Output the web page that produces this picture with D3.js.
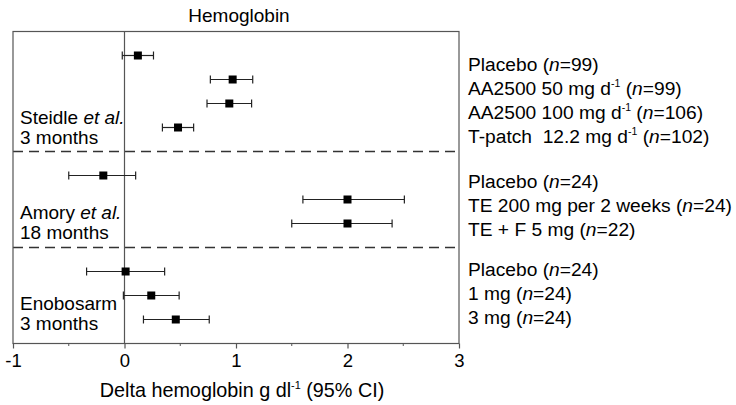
<!DOCTYPE html>
<html>
<head>
<meta charset="utf-8">
<script src="https://cdn.jsdelivr.net/npm/d3@7"></script>
<style>
  html, body { margin: 0; padding: 0; background: #fff; }
  svg { display: block; font-family: "Liberation Sans", Arial, Helvetica, sans-serif; }
  text { white-space: pre; }
</style>
</head>
<body>
<svg id="chart" width="736" height="405"></svg>
<script>
// ---------------- data ----------------
const chartTitle = "Hemoglobin";
const axisTitle = "Delta hemoglobin g dl^-1^ (95% CI)";
const groupIndex = [0, 0, 0, 0, 1, 1, 1, 2, 2, 2];
const armLabels = [
  "Placebo (*n*=99)",
  "AA2500 50 mg d^-1^ (*n*=99)",
  "AA2500 100 mg d^-1^ (*n*=106)",
  "T-patch  12.2 mg d^-1^ (*n*=102)",
  "Placebo (*n*=24)",
  "TE 200 mg per 2 weeks (*n*=24)",
  "TE + F 5 mg (*n*=22)",
  "Placebo (*n*=24)",
  "1 mg (*n*=24)",
  "3 mg (*n*=24)"
];
const means = [0.12, 0.97, 0.94, 0.48, -0.19, 2.00, 2.00, 0.01, 0.24, 0.46];
const lower = [-0.02, 0.77, 0.74, 0.34, -0.50, 1.60, 1.50, -0.34, -0.01, 0.17];
const upper = [0.26, 1.15, 1.14, 0.62, 0.10, 2.51, 2.40, 0.36, 0.49, 0.76];
const rowIndex = [0, 1, 2, 3, 5, 6, 7, 9, 10, 11];
const separatorRows = [4, 8];
const studyLine1 = ["Steidle *et al.*", "Amory *et al.*", "Enobosarm"];
const studyLine2 = ["3 months", "18 months", "3 months"];
const studyLastRow = [3, 7, 11];
const xTickValues = [-1, 0, 1, 2, 3];
const xMinorTicks = [-0.5, 0.5, 1.5, 2.5];
const xDomain = [-1, 3];
const rowDomain = [-1, 12];

// ---------------- layout / style ----------------
const svg = d3.select("#chart");
const plot = { left: 13, right: 459, top: 31.5, bottom: 343.5 };
const x = d3.scaleLinear().domain(xDomain).range([plot.left, plot.right]);
const y = d3.scaleLinear().domain(rowDomain).range([plot.top, plot.bottom]);
const fs = 19.2;
const frameColor = "#555";
const labelOffset = [15, 12, 4];                 // right labels baseline offset per study
const studyOffsets = [[-4, 16], [-5, 15], [-10, 10.5]];

// rich text helper: *italic*, ^superscript^
function rich(sel, str, size) {
  const parts = str.split(/(\*[^*]+\*|\^[^^]+\^)/).filter(s => s.length);
  let prevSup = false;
  parts.forEach(p => {
    const t = sel.append("tspan");
    if (p.startsWith("*")) {
      t.attr("font-style", "italic").text(p.slice(1, -1));
    } else if (p.startsWith("^")) {
      t.attr("font-size", size * 0.55).text(p.slice(1, -1));
      t.attr("dy", -size * 0.4);
      prevSup = true;
      return;
    } else {
      t.text(p);
    }
    if (prevSup) { t.attr("dy", size * 0.4); prevSup = false; }
  });
}

// title
svg.append("text")
  .attr("x", 239).attr("y", 22)
  .attr("text-anchor", "middle").attr("font-size", 19)
  .text(chartTitle);

// separators
svg.selectAll("line.sep").data(separatorRows).join("line")
  .attr("class", "sep")
  .attr("x1", plot.left).attr("x2", plot.right)
  .attr("y1", d => y(d)).attr("y2", d => y(d))
  .attr("stroke", "#333").attr("stroke-width", 1.3)
  .attr("stroke-dasharray", "10,6");

// zero line
svg.append("line")
  .attr("x1", x(0)).attr("x2", x(0))
  .attr("y1", plot.top).attr("y2", plot.bottom)
  .attr("stroke", frameColor).attr("stroke-width", 1.2);

// frame
svg.append("rect")
  .attr("x", plot.left).attr("y", plot.top)
  .attr("width", plot.right - plot.left).attr("height", plot.bottom - plot.top)
  .attr("fill", "none").attr("stroke", frameColor).attr("stroke-width", 1.2);

// x axis
const axis = svg.append("g").attr("transform", `translate(0,${plot.bottom})`)
  .call(d3.axisBottom(x).tickValues(xTickValues).tickSize(5).tickFormat(d => String(d)));
axis.select(".domain").remove();
axis.selectAll(".tick line").attr("stroke", frameColor).attr("stroke-width", 1.2);
axis.selectAll(".tick text")
  .attr("font-size", 18.5).attr("font-family", "Liberation Sans, Arial, sans-serif")
  .attr("fill", "#000").attr("y", 10).attr("dy", "0.71em");
svg.append("g").attr("transform", `translate(0,${plot.bottom})`)
  .selectAll("line").data(xMinorTicks).join("line")
  .attr("x1", d => x(d)).attr("x2", d => x(d))
  .attr("y1", 0).attr("y2", 2.5)
  .attr("stroke", frameColor).attr("stroke-width", 1);

// axis title
const at = svg.append("text")
  .attr("x", 242).attr("y", 397)
  .attr("text-anchor", "middle").attr("font-size", 19.8);
rich(at, axisTitle, 19.8);

// error bars
const cap = 4;
const bars = svg.append("g").selectAll("g").data(means).join("g");
bars.append("line")
  .attr("x1", (d, i) => x(lower[i])).attr("x2", (d, i) => x(upper[i]))
  .attr("y1", (d, i) => y(rowIndex[i])).attr("y2", (d, i) => y(rowIndex[i]))
  .attr("stroke", "#222").attr("stroke-width", 1.2);
bars.append("line")
  .attr("x1", (d, i) => x(lower[i])).attr("x2", (d, i) => x(lower[i]))
  .attr("y1", (d, i) => y(rowIndex[i]) - cap).attr("y2", (d, i) => y(rowIndex[i]) + cap)
  .attr("stroke", "#222").attr("stroke-width", 1.2);
bars.append("line")
  .attr("x1", (d, i) => x(upper[i])).attr("x2", (d, i) => x(upper[i]))
  .attr("y1", (d, i) => y(rowIndex[i]) - cap).attr("y2", (d, i) => y(rowIndex[i]) + cap)
  .attr("stroke", "#222").attr("stroke-width", 1.2);
const sq = 8;
bars.append("rect")
  .attr("x", d => x(d) - sq / 2)
  .attr("y", (d, i) => y(rowIndex[i]) - sq / 2)
  .attr("width", sq).attr("height", sq)
  .attr("fill", "#000");

// right labels
armLabels.forEach((lab, i) => {
  const t = svg.append("text")
    .attr("x", 468)
    .attr("y", y(rowIndex[i]) + labelOffset[groupIndex[i]])
    .attr("font-size", fs);
  rich(t, lab, fs);
});

// study labels
studyLine1.forEach((s, i) => {
  const t1 = svg.append("text")
    .attr("x", 20).attr("y", y(studyLastRow[i]) + studyOffsets[i][0])
    .attr("font-size", 19);
  rich(t1, s, 19);
  svg.append("text")
    .attr("x", 20).attr("y", y(studyLastRow[i]) + studyOffsets[i][1])
    .attr("font-size", 19).text(studyLine2[i]);
});
</script>
</body>
</html>
